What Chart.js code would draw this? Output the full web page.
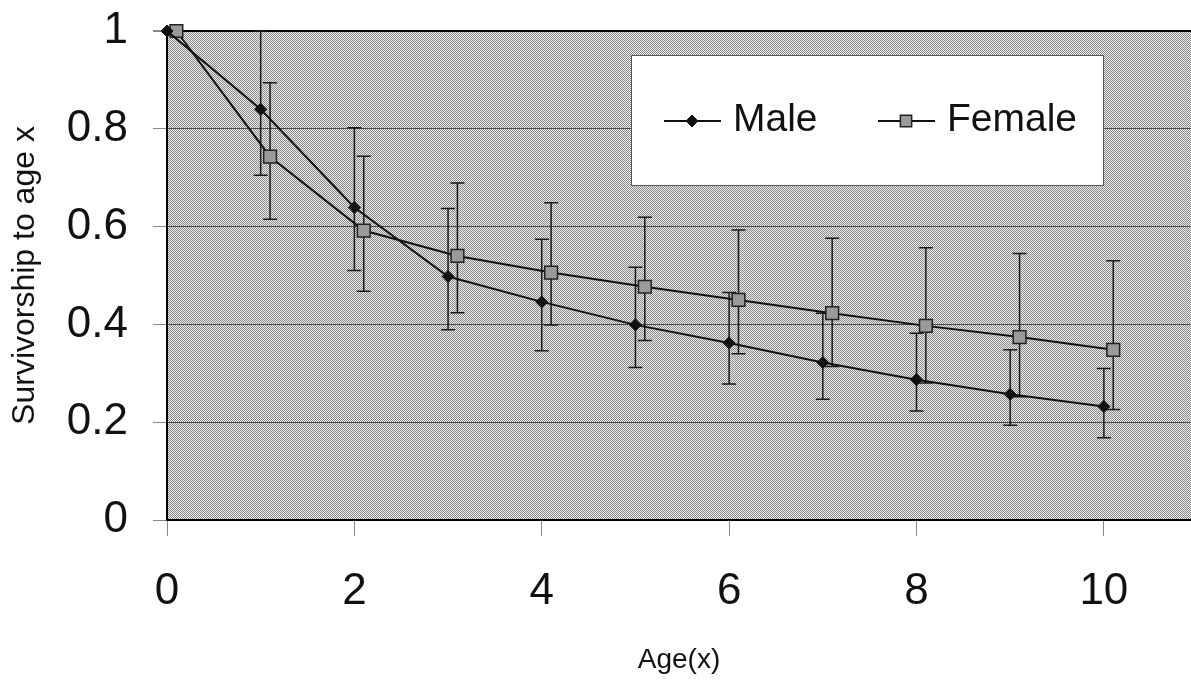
<!DOCTYPE html>
<html>
<head>
<meta charset="utf-8">
<script src="https://cdn.jsdelivr.net/npm/chart.js@4/dist/chart.umd.min.js"></script>
<style>
  body { margin: 0; background: #fff; }
  #chart { display: block; }
</style>
</head>
<body>
<canvas id="chart" width="1191" height="682"></canvas>
<script>
// ages (female points are shifted a little to the right in the original)
const maleAges = [0, 1, 2, 3, 4, 5, 6, 7, 8, 9, 10];
const femaleAges = [0.1, 1.1, 2.1, 3.1, 4.1, 5.1, 6.1, 7.1, 8.1, 9.1, 10.1];

// survivorship values
const maleValues = [1, 0.84, 0.639, 0.498, 0.446, 0.399, 0.362, 0.322, 0.287, 0.257, 0.232];
const femaleValues = [1, 0.743, 0.592, 0.54, 0.506, 0.477, 0.45, 0.423, 0.397, 0.374, 0.348];

// error bar ends
const maleLow = [null, 0.705, 0.51, 0.389, 0.346, 0.312, 0.278, 0.247, 0.223, 0.194, 0.168];
const maleHigh = [null, 1.0, 0.802, 0.637, 0.574, 0.517, 0.465, 0.423, 0.382, 0.348, 0.31];
const femaleLow = [null, 0.615, 0.468, 0.424, 0.399, 0.367, 0.34, 0.314, 0.28, 0.252, 0.226];
const femaleHigh = [null, 0.894, 0.744, 0.689, 0.649, 0.619, 0.593, 0.576, 0.557, 0.545, 0.53];

const seriesNames = ['Male', 'Female'];
const xTitle = 'Age(x)';
const yTitle = 'Survivorship to age x';

const FONT = '"Liberation Sans", Arial, sans-serif';

function toPoints(xs, ys) {
    return xs.map(function (x, i) { return { x: x, y: ys[i] }; });
}

// dithered grey fill like the scanned plot area
function makePattern(ctx) {
    const c = document.createElement('canvas');
    c.width = 2;
    c.height = 2;
    const p = c.getContext('2d');
    p.fillStyle = '#ececec';
    p.fillRect(0, 0, 2, 2);
    p.fillStyle = '#8a8a8a';
    p.fillRect(0, 0, 1, 1);
    p.fillRect(1, 1, 1, 1);
    return ctx.createPattern(c, 'repeat');
}

const plotBackground = {
    id: 'plotBackground',
    beforeDraw: function (chart) {
        const a = chart.chartArea;
        const ctx = chart.ctx;
        ctx.save();
        ctx.fillStyle = makePattern(ctx);
        ctx.fillRect(a.left, a.top, a.right - a.left, a.bottom - a.top);
        ctx.restore();
    }
};

const errorBars = {
    id: 'errorBars',
    beforeDatasetsDraw: function (chart) {
        const ctx = chart.ctx;
        const xs = chart.scales.x;
        const ys = chart.scales.y;
        const sets = [
            { ages: maleAges, low: maleLow, high: maleHigh },
            { ages: femaleAges, low: femaleLow, high: femaleHigh }
        ];
        ctx.save();
        ctx.strokeStyle = '#1a1a1a';
        ctx.lineWidth = 1.5;
        sets.forEach(function (s) {
            s.ages.forEach(function (age, i) {
                if (s.low[i] == null) return;
                const px = xs.getPixelForValue(age);
                const top = ys.getPixelForValue(s.high[i]);
                const bot = ys.getPixelForValue(s.low[i]);
                ctx.beginPath();
                ctx.moveTo(px, top);
                ctx.lineTo(px, bot);
                ctx.moveTo(px - 7, top);
                ctx.lineTo(px + 7, top);
                ctx.moveTo(px - 7, bot);
                ctx.lineTo(px + 7, bot);
                ctx.stroke();
            });
        });
        ctx.restore();
    }
};

// legend box sitting inside the plot area
const boxLegend = {
    id: 'boxLegend',
    afterDraw: function (chart) {
        const ctx = chart.ctx;
        ctx.save();
        ctx.fillStyle = '#ffffff';
        ctx.fillRect(631, 55, 472, 130);
        ctx.strokeStyle = '#555';
        ctx.lineWidth = 1;
        ctx.strokeRect(631.5, 55.5, 472, 130);

        const slots = [664, 878];
        chart.data.datasets.forEach(function (ds, i) {
            const x0 = slots[i];
            const y = 121;
            ctx.strokeStyle = ds.borderColor;
            ctx.lineWidth = 2;
            ctx.beginPath();
            ctx.moveTo(x0, y);
            ctx.lineTo(x0 + 57, y);
            ctx.stroke();
            ctx.fillStyle = ds.pointBackgroundColor;
            ctx.strokeStyle = ds.pointBorderColor;
            ctx.lineWidth = ds.pointBorderWidth;
            Chart.helpers.drawPoint(ctx, {
                pointStyle: ds.pointStyle,
                radius: ds.pointStyle === 'rect' ? 8 : 6,
                rotation: 0,
                borderWidth: ds.pointBorderWidth
            }, x0 + 28, y);
            ctx.fillStyle = '#111';
            ctx.font = '39px ' + FONT;
            ctx.textBaseline = 'middle';
            ctx.textAlign = 'left';
            ctx.fillText(ds.label, x0 + 69, y - 1);
        });
        ctx.restore();
    }
};

const ctx = document.getElementById('chart').getContext('2d');
const chart = new Chart(ctx, {
    type: 'line',
    data: {
        datasets: [
            {
                label: seriesNames[0],
                data: toPoints(maleAges, maleValues),
                borderColor: '#111',
                borderWidth: 2,
                pointStyle: 'rectRot',
                pointRadius: 6,
                pointBackgroundColor: '#111',
                pointBorderColor: '#111',
                pointBorderWidth: 1,
                tension: 0,
                clip: false
            },
            {
                label: seriesNames[1],
                data: toPoints(femaleAges, femaleValues),
                borderColor: '#111',
                borderWidth: 2,
                pointStyle: 'rect',
                pointRadius: 9,
                pointBackgroundColor: '#9a9a9a',
                pointBorderColor: '#222',
                pointBorderWidth: 1.5,
                tension: 0,
                clip: false
            }
        ]
    },
    options: {
        responsive: false,
        animation: false,
        devicePixelRatio: 1,
        layout: { autoPadding: false, padding: { top: 31, right: 0, bottom: 0, left: 0 } },
        plugins: {
            legend: { display: false },
            tooltip: { enabled: false }
        },
        scales: {
            x: {
                type: 'linear',
                min: 0,
                max: 10.93,
                afterFit: function (scale) {
                    scale.height = 162;
                    scale.paddingLeft = 0;
                    scale.paddingRight = 0;
                },
                ticks: {
                    stepSize: 2,
                    includeBounds: false,
                    padding: 29,
                    color: '#111',
                    font: { family: FONT, size: 44 },
                    maxRotation: 0
                },
                grid: {
                    drawOnChartArea: false,
                    drawTicks: true,
                    tickLength: 16,
                    tickColor: '#888'
                },
                border: { color: '#000', width: 2 },
                title: {
                    display: true,
                    text: xTitle,
                    color: '#111',
                    font: { family: FONT, size: 28 },
                    padding: { top: 0, bottom: 5 }
                }
            },
            y: {
                min: 0,
                max: 1,
                afterFit: function (scale) {
                    scale.width = 167;
                    scale.paddingTop = 0;
                    scale.paddingBottom = 0;
                },
                ticks: {
                    stepSize: 0.2,
                    padding: 25,
                    color: '#111',
                    font: { family: FONT, size: 44 },
                    callback: function (v) { return String(+v.toFixed(1)); }
                },
                grid: {
                    color: function (c) { return c.tick && c.tick.value === 1 ? '#000' : '#4a4a4a'; },
                    lineWidth: function (c) { return c.tick && c.tick.value === 1 ? 2 : 1; },
                    tickLength: 14,
                    tickColor: '#888'
                },
                border: { color: '#000', width: 2 },
                title: {
                    display: true,
                    text: yTitle,
                    color: '#111',
                    font: { family: FONT, size: 32 },
                    padding: { top: 6, bottom: 0 }
                }
            }
        }
    },
    plugins: [plotBackground, errorBars, boxLegend]
});
</script>
</body>
</html>
